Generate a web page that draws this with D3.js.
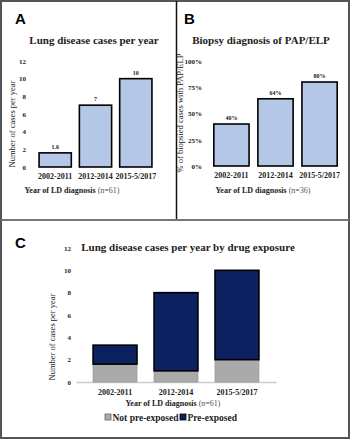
<!DOCTYPE html>
<html>
<head>
<meta charset="utf-8">
<script src="https://cdn.jsdelivr.net/npm/d3@7"></script>
<style>
body { margin: 0; background: #fff; }
svg text { font-family: "Liberation Serif", "Times New Roman", "DejaVu Serif", serif !important; font-weight: bold; fill: #222; }
svg text.lbl { font-family: "Liberation Sans", Arial, sans-serif !important; font-size: 15px; fill: #000; }
</style>
</head>
<body>
<div id="chart"></div>
<script>
// data
var periods = ["2002-2011", "2012-2014", "2015-5/2017"];
var casesPerYear = [1.6, 7, 10];
var casesLabels = ["1.6", "7", "10"];
var biopsyPct = [40, 64, 80];
var notPreExposed = [1.6, 1, 2];
var preExposed = [1.7, 7, 8];
var countTicks = [0, 2, 4, 6, 8, 10, 12];
var pctTicks = [0, 25, 50, 75, 100];

var svg = d3.select("#chart")
.append("svg")
.attr("width", 350)
.attr("height", 440);

// frame
svg.append("rect").attr("x", 1).attr("y", 1).attr("width", 348).attr("height", 437)
.attr("fill", "none").attr("stroke", "#555").attr("stroke-width", 2);
svg.append("line").attr("x1", 176.5).attr("x2", 176.5).attr("y1", 1).attr("y2", 220)
.attr("stroke", "#111").attr("stroke-width", 1.5);
svg.append("line").attr("x1", 1).attr("x2", 349).attr("y1", 220).attr("y2", 220)
.attr("stroke", "#777").attr("stroke-width", 2);

// panel letters
svg.append("text").attr("class", "lbl").attr("x", 15).attr("y", 24).text("A");
svg.append("text").attr("class", "lbl").attr("x", 184).attr("y", 24).text("B");
svg.append("text").attr("class", "lbl").attr("x", 15).attr("y", 248).text("C");

var barPanel = function(opt){
  var x = d3.scaleBand().range(opt.xr).domain(periods).padding(0.2);
  var y = d3.scaleLinear().domain(opt.dom).range(opt.yr);
  var g = svg.append("g");

  g.append("text").attr("x", opt.titleX).attr("y", 44)
  .attr("text-anchor", "middle").style("font-size", "11px").text(opt.title);

  var yAxis = g.append("g")
  .attr("transform", "translate(" + opt.xr[0] + ",0)")
  .call(d3.axisLeft(y).tickValues(opt.ticks).tickSize(0).tickPadding(opt.tickPad).tickFormat(opt.fmt));
  yAxis.select(".domain").remove();
  yAxis.selectAll("text").style("font-size", "7px");

  var xAxis = g.append("g")
  .attr("transform", "translate(0," + opt.yr[0] + ")")
  .call(d3.axisBottom(x).tickSize(0).tickPadding(6));
  xAxis.select(".domain").remove();
  xAxis.selectAll("text").style("font-size", "8px");

  g.selectAll("rect.bar")
  .data(opt.values)
  .enter()
  .append("rect")
  .attr("class", "bar")
  .attr("x", function(d, i) { return x(periods[i]); })
  .attr("y", function(d) { return y(d); })
  .attr("width", x.bandwidth())
  .attr("height", function(d) { return opt.yr[0] - y(d); })
  .attr("fill", "#b4c7e7")
  .attr("stroke", "#000")
  .attr("stroke-width", 1.6);

  g.selectAll("text.val")
  .data(opt.values)
  .enter()
  .append("text")
  .attr("class", "val")
  .attr("x", function(d, i) { return x(periods[i]) + x.bandwidth() / 2; })
  .attr("y", function(d) { return y(d) - 4; })
  .attr("text-anchor", "middle")
  .style("font-size", "6px")
  .text(function(d, i) { return opt.labels[i]; });

  var xt = g.append("text").attr("x", opt.xTitleX).attr("y", 193)
  .attr("text-anchor", "middle").style("font-size", "8px");
  xt.append("tspan").text("Year of LD diagnosis ");
  xt.append("tspan").style("font-weight", "normal").attr("fill", "#555").text(opt.n);

  g.append("text")
  .attr("transform", "translate(" + opt.yTitleX + "," + opt.yTitleY + ")rotate(-90)")
  .attr("text-anchor", "middle").style("font-size", "8.5px").style("font-weight", "normal")
  .text(opt.yTitle);
};

barPanel({
  xr: [31, 160], yr: [167, 61], dom: [0, 12], ticks: countTicks, tickPad: 5,
  fmt: d3.format("d"), values: casesPerYear, labels: casesLabels,
  title: "Lung disease cases per year", titleX: 94,
  xTitleX: 72, n: "(n=61)", yTitleX: 15, yTitleY: 124, yTitle: "Number of cases per year"
});

barPanel({
  xr: [205, 346], yr: [166, 61], dom: [0, 100], ticks: pctTicks, tickPad: 3,
  fmt: function(d){ return d + "%"; }, values: biopsyPct,
  labels: biopsyPct.map(function(d){ return d + "%"; }),
  title: "Biopsy diagnosis of PAP/ELP", titleX: 261,
  xTitleX: 263, n: "(n=36)", yTitleX: 183, yTitleY: 113, yTitle: "% of biopsied cases with PAP/ELP"
});

// panel C stacked
var xc = d3.scaleBand().range([76, 276]).domain(periods).padding(0.28);
var yc = d3.scaleLinear().domain([0, 12]).range([382, 248]);
var gc = svg.append("g");

gc.append("text").attr("x", 188).attr("y", 251).attr("text-anchor", "middle")
.style("font-size", "11px").text("Lung disease cases per year by drug exposure");

var yAxisC = gc.append("g").attr("transform", "translate(76,0)")
.call(d3.axisLeft(yc).tickValues(countTicks).tickSize(0).tickPadding(5).tickFormat(d3.format("d")));
yAxisC.select(".domain").remove();
yAxisC.selectAll("text").style("font-size", "7px");

var xAxisC = gc.append("g").attr("transform", "translate(0,382)")
.call(d3.axisBottom(xc).tickSize(0).tickPadding(7));
xAxisC.select(".domain").attr("stroke", "#ccc").attr("stroke-width", 1.5);
xAxisC.selectAll("text").style("font-size", "8px");

var stackData = periods.map(function(p, i){ return {period: p, notPre: notPreExposed[i], pre: preExposed[i]}; });
var series = d3.stack().keys(["notPre", "pre"])(stackData);
var colors = {notPre: "#aaaaaa", pre: "#0c2160"};

gc.selectAll("g.layer")
.data(series)
.enter()
.append("g")
.attr("class", "layer")
.attr("fill", function(d) { return colors[d.key]; })
.attr("stroke", function(d) { return d.key === "pre" ? "#000" : "#999"; })
.attr("stroke-width", function(d) { return d.key === "pre" ? 1.6 : 0.8; })
.selectAll("rect")
.data(function(d) { return d; })
.enter()
.append("rect")
.attr("x", function(d) { return xc(d.data.period); })
.attr("y", function(d) { return yc(d[1]); })
.attr("width", xc.bandwidth())
.attr("height", function(d) { return yc(d[0]) - yc(d[1]); });

var xtc = gc.append("text").attr("x", 173).attr("y", 406).attr("text-anchor", "middle").style("font-size", "8px");
xtc.append("tspan").text("Year of LD diagnosis ");
xtc.append("tspan").style("font-weight", "normal").attr("fill", "#555").text("(n=61)");

gc.append("text").attr("transform", "translate(55,337)rotate(-90)")
.attr("text-anchor", "middle").style("font-size", "8.5px").style("font-weight", "normal")
.text("Number of cases per year");

// legend
var legendItems = [{key: "notPre", name: "Not pre-exposed", x: 105}, {key: "pre", name: "Pre-exposed", x: 180}];
var lg = gc.selectAll("g.leg").data(legendItems).enter().append("g").attr("class", "leg")
.attr("transform", function(d) { return "translate(" + d.x + ",414)"; });
lg.append("rect").attr("width", 6).attr("height", 6)
.attr("fill", function(d) { return colors[d.key]; })
.attr("stroke", function(d) { return d.key === "pre" ? "#000" : "#666"; }).attr("stroke-width", 0.8);
lg.append("text").attr("x", 7.5).attr("y", 6.5).style("font-size", "9.5px").text(function(d) { return d.name; });
</script>
</body>
</html>
